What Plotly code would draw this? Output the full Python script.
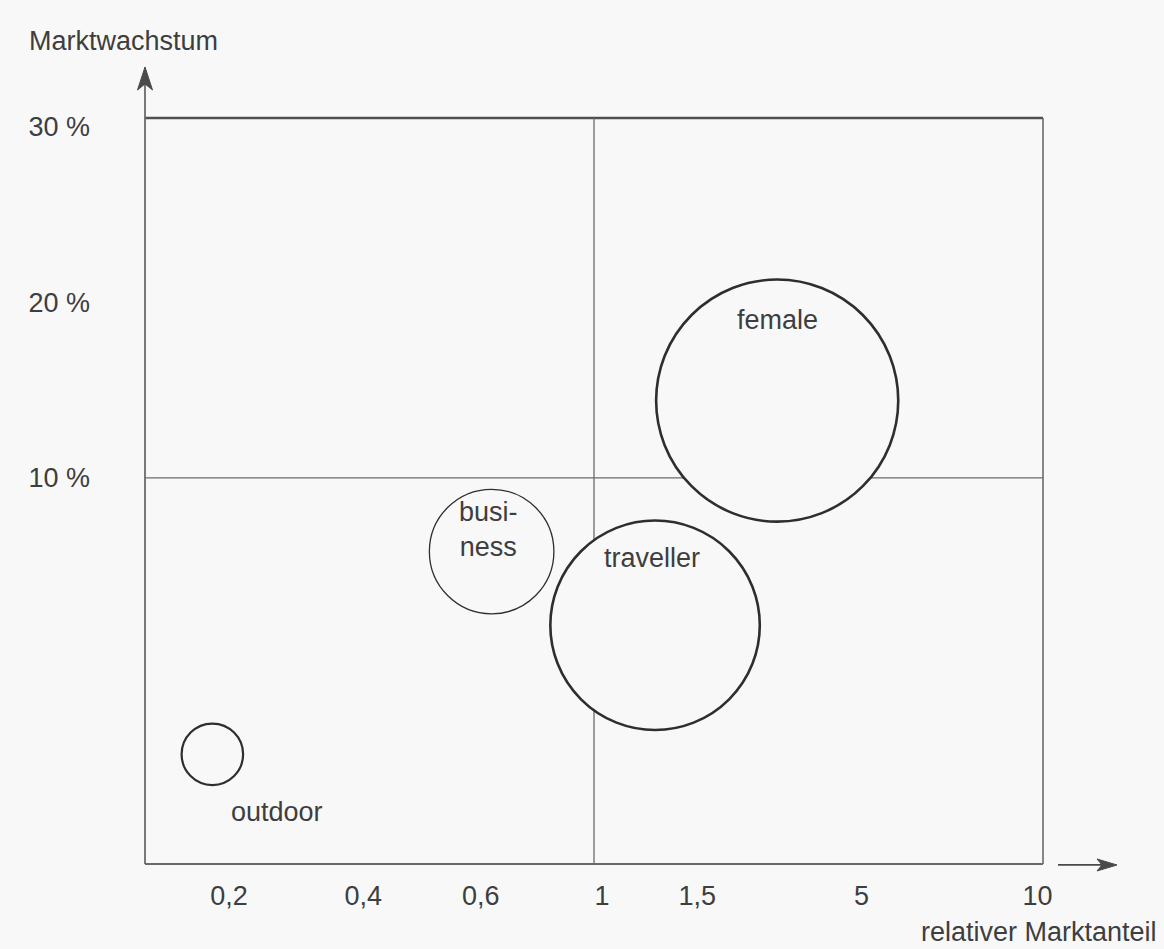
import plotly.graph_objects as go

# Portfolio segments (BCG-style matrix)
segmente = ["female", "traveller", "business", "outdoor"]
segment_labels = ["female", "traveller", "busi-<br>ness", "outdoor"]
# position on the (hand-scaled) relative market share axis, 0 = left edge, 100 = right edge
marktanteil_pos = [70.4, 56.8, 38.6, 7.5]
marktwachstum = [14.4, 1.6, 5.8, -5.75]   # market growth in %
umsatz = [15.5, 11.6, 4.1, 1.0]          # relative revenue -> bubble area

# axis labelling
x_tick_pos = [9.35, 24.3, 37.4, 50.9, 61.5, 79.8, 99.4]
x_tick_text = ["0,2", "0,4", "0,6", "1", "1,5", "5", "10"]
y_tick_vals = [10, 20, 30]
y_tick_text = ["10 %", "20 %", "30 %"]

# quadrant dividers: relative market share 1, market growth 10 %
trenn_x = 50
trenn_y = 10

BG = "#f8f8f9"
LINE = "#6a6a6a"
TEXT = "#3e3e3e"
FONT = "Liberation Sans, Arial, sans-serif"
FS = 27

# label offsets (px) relative to the bubble centres
label_shift = {
    "female": (0, 81),
    "traveller": (-3, 67),
    "business": (-3, 22),
    "outdoor": (65, -58),
}
line_w = {"female": 2.6, "traveller": 2.6, "business": 1.3, "outdoor": 2.2}

fig = go.Figure()
fig.add_trace(go.Scatter(
    x=marktanteil_pos,
    y=marktwachstum,
    mode="markers",
    marker=dict(
        size=umsatz,
        sizemode="area",
        sizeref=2 / 61.5 ** 2,
        color=BG,
        opacity=1,
        line=dict(color="#2e2e2e", width=[line_w[s] for s in segmente]),
    ),
    hoverinfo="skip",
    showlegend=False,
    cliponaxis=False,
))

for s, lab, x, y in zip(segmente, segment_labels, marktanteil_pos, marktwachstum):
    dx, dy = label_shift[s]
    fig.add_annotation(
        x=x, y=y, xref="x", yref="y", text=lab, showarrow=False,
        xshift=dx, yshift=dy, align="center",
        font=dict(family=FONT, size=FS, color=TEXT),
    )

shapes = []
# frame of the matrix
shapes.append(dict(type="line", xref="paper", yref="paper", x0=0, x1=1, y0=1, y1=1,
                   line=dict(color="#505050", width=2.4), layer="below"))
shapes.append(dict(type="line", xref="paper", yref="paper", x0=1, x1=1, y0=0, y1=1,
                   line=dict(color=LINE, width=1.6), layer="below"))
shapes.append(dict(type="line", xref="paper", yref="paper", x0=0, x1=1, y0=0, y1=0,
                   line=dict(color=LINE, width=1.8), layer="below"))
# y axis running up into the arrow
shapes.append(dict(type="line", xref="paper", yref="paper", x0=0, x1=0, y0=0, y1=1.055,
                   line=dict(color=LINE, width=1.8), layer="below"))
# quadrant dividers
shapes.append(dict(type="line", xref="x", yref="paper", x0=trenn_x, x1=trenn_x, y0=0, y1=1,
                   line=dict(color=LINE, width=1.3), layer="below"))
shapes.append(dict(type="line", xref="paper", yref="y", x0=0, x1=1, y0=trenn_y, y1=trenn_y,
                   line=dict(color=LINE, width=1.3), layer="below"))
# arrowhead on the y axis
shapes.append(dict(type="path", xref="paper", yref="paper", xsizemode="pixel", ysizemode="pixel",
                   xanchor=0, yanchor=1.0684,
                   path="M 0,0 L -7.5,-23 L 0,-17 L 7.5,-23 Z",
                   fillcolor="#4a4a4a", line=dict(color="#4a4a4a", width=1)))
# separate arrow beside the x axis
shapes.append(dict(type="line", xref="paper", yref="paper", x0=1.0167, x1=1.075, y0=-0.0013, y1=-0.0013,
                   line=dict(color="#4a4a4a", width=1.8)))
shapes.append(dict(type="path", xref="paper", yref="paper", xsizemode="pixel", ysizemode="pixel",
                   xanchor=1.0824, yanchor=-0.0013,
                   path="M 0,0 L -20,6 L -15,0 L -20,-6 Z",
                   fillcolor="#4a4a4a", line=dict(color="#4a4a4a", width=1)))

fig.update_layout(shapes=shapes)

# axis titles
fig.add_annotation(x=-0.1314, y=1.103, xref="paper", yref="paper", xanchor="left", yanchor="middle",
                   text="Marktwachstum", showarrow=False,
                   font=dict(family=FONT, size=FS, color=TEXT))
fig.add_annotation(x=1.129, y=-0.1135, xref="paper", yref="paper", xanchor="right", yanchor="bottom",
                   text="relativer Marktanteil", showarrow=False,
                   font=dict(family=FONT, size=FS, color=TEXT))

fig.update_layout(
    width=1164, height=949,
    margin=dict(l=145, r=121, t=118, b=85),
    paper_bgcolor=BG, plot_bgcolor=BG,
    font=dict(family=FONT, size=FS, color=TEXT),
    xaxis=dict(range=[0, 100], showgrid=False, zeroline=False, showline=False,
               tickmode="array", tickvals=x_tick_pos, ticktext=x_tick_text,
               ticks="", ticklabelstandoff=13, fixedrange=True),
    yaxis=dict(range=[-12, 30.5], showgrid=False, zeroline=False, showline=False,
               tickmode="array", tickvals=y_tick_vals, ticktext=y_tick_text,
               ticks="", ticklabelstandoff=54, fixedrange=True),
    hovermode=False,
)

fig.write_html("out.html")
